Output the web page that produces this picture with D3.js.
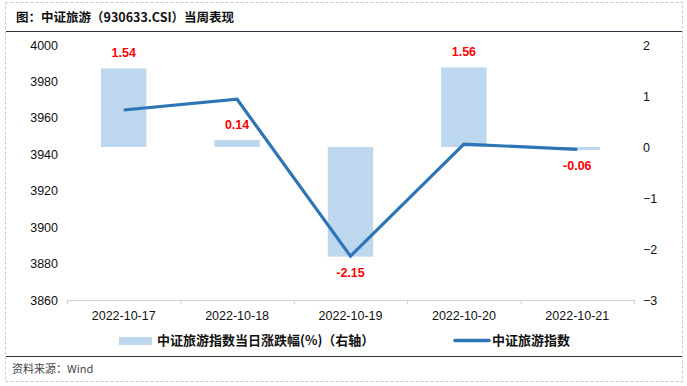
<!DOCTYPE html>
<html><head><meta charset="utf-8">
<script src="https://cdn.jsdelivr.net/npm/d3@7"></script>
<style>body{margin:0;background:#fff;}svg{display:block;}</style>
</head><body>
<svg id="c" width="687" height="386"></svg>
<script>
const categories = ["2022-10-17","2022-10-18","2022-10-19","2022-10-20","2022-10-21"];
const changePct = [1.54, 0.14, -2.15, 1.56, -0.06];
const indexValues = [3964.3, 3970.2, 3884.1, 3945.6, 3942.7];
const leftTicks = [3860,3880,3900,3920,3940,3960,3980,4000];
const rightTicks = [-3,-2,-1,0,1,2];
const title = "图：中证旅游（930633.CSI）当周表现";
const legendBar = "中证旅游指数当日涨跌幅(%)（右轴）";
const legendLine = "中证旅游指数";
const source = "资料来源：Wind";

const svg = d3.select("#c");
const font = "'Liberation Sans', Arial, 'Noto Sans CJK SC', sans-serif";
const cjk = "'Noto Sans CJK SC', 'Liberation Sans', sans-serif";

// frame
svg.append("rect").attr("x",5.5).attr("y",2.5).attr("width",677).attr("height",379)
  .attr("fill","none").attr("stroke","#c8c8c8").attr("stroke-dasharray","3,2");
svg.append("line").attr("x1",6).attr("x2",682).attr("y1",31.5).attr("y2",31.5).attr("stroke","#2b3440").attr("stroke-width",1.2);
svg.append("line").attr("x1",6).attr("x2",682).attr("y1",356.5).attr("y2",356.5).attr("stroke","#2b3440").attr("stroke-width",1.2);
svg.append("text").attr("x",16).attr("y",22).attr("font-family",cjk).attr("font-size",12.5).attr("font-weight","bold").attr("fill","#111").text(title);
svg.append("text").attr("x",12).attr("y",373).attr("font-family",cjk).attr("font-size",11).attr("fill","#444").text(source);

const x0 = 67, x1 = 634, yTop = 45, yBot = 300;
const x = d3.scaleBand().domain(categories).range([x0,x1]).paddingInner(0).paddingOuter(0);
const yL = d3.scaleLinear().domain([3860,4000]).range([yBot,yTop]);
const yR = d3.scaleLinear().domain([-3,2]).range([yBot,yTop]);

// bars
const bw = x.bandwidth()*0.4;
svg.append("g").selectAll("rect").data(changePct).join("rect")
  .attr("x",(d,i)=>x(categories[i])+x.bandwidth()/2-bw/2)
  .attr("width",bw)
  .attr("y",d=>yR(Math.max(0,d)))
  .attr("height",d=>Math.abs(yR(d)-yR(0)))
  .attr("fill","#bdd7ee");

// axes
const gL = svg.append("g").attr("transform",`translate(${x0},0)`)
  .call(d3.axisLeft(yL).tickValues(leftTicks).tickSize(0).tickPadding(9).tickFormat(d3.format("d")));
gL.select(".domain").remove();
gL.selectAll("text").attr("font-family",font).attr("font-size",12.5).attr("fill","#111");

const gR = svg.append("g").attr("transform",`translate(${x1},0)`)
  .call(d3.axisRight(yR).tickValues(rightTicks).tickSize(0).tickPadding(9).tickFormat(d3.format("d")));
gR.select(".domain").remove();
gR.selectAll("text").attr("font-family",font).attr("font-size",12.5).attr("fill","#111");

const gX = svg.append("g").attr("transform",`translate(0,${yBot})`)
  .call(d3.axisBottom(x).tickSize(0).tickPadding(11));
gX.select(".domain").attr("stroke","#d0d0d0").attr("d",`M${x0},0.5H${x1}`);
gX.selectAll("text").attr("font-family",font).attr("font-size",12.5).attr("fill","#111");
// boundary ticks
const bounds = categories.map(c=>x(c)).concat([x1]);
svg.append("g").selectAll("line").data(bounds).join("line")
  .attr("x1",d=>d+0.5).attr("x2",d=>d+0.5).attr("y1",yBot).attr("y2",yBot+4)
  .attr("stroke","#d0d0d0");

// line
const line = d3.line().x((d,i)=>x(categories[i])+x.bandwidth()/2).y(d=>yL(d));
svg.append("path").datum(indexValues).attr("d",line).attr("fill","none")
  .attr("stroke","#2e75b6").attr("stroke-width",3.2).attr("stroke-linejoin","miter");

// labels
svg.append("g").selectAll("text").data(changePct).join("text")
  .attr("x",(d,i)=>x(categories[i])+x.bandwidth()/2)
  .attr("y",d=> d>=0 ? yR(d)-11 : yR(d)+20)
  .attr("text-anchor","middle").attr("font-family",font).attr("font-size",12.5)
  .attr("font-weight","bold").attr("fill","#ff0000")
  .text(d=>d.toFixed(2));

// legend
svg.append("rect").attr("x",119).attr("y",337).attr("width",33).attr("height",8).attr("fill","#bdd7ee");
svg.append("text").attr("x",157).attr("y",345).attr("font-family",cjk).attr("font-size",13).attr("font-weight","bold").attr("fill","#111").text(legendBar);
svg.append("line").attr("x1",455).attr("x2",489).attr("y1",340.5).attr("y2",340.5).attr("stroke","#2e75b6").attr("stroke-width",3.5).attr("stroke-linecap","round");
svg.append("text").attr("x",492).attr("y",345).attr("font-family",cjk).attr("font-size",13).attr("font-weight","bold").attr("fill","#111").text(legendLine);
</script>
</body></html>
